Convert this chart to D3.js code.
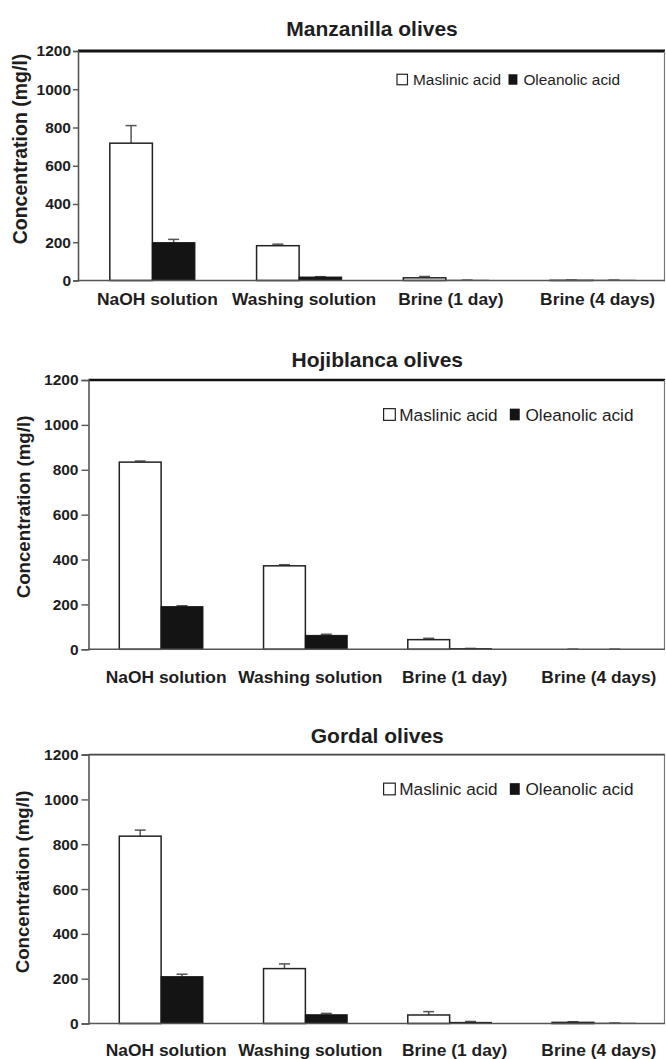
<!DOCTYPE html>
<html>
<head>
<meta charset="utf-8">
<script src="https://cdn.jsdelivr.net/npm/d3@7"></script>
<style>
  html, body { margin: 0; padding: 0; background: #fff; }
  svg { display: block; font-family: "Liberation Sans", Arial, sans-serif; }
</style>
</head>
<body>
<svg id="chart" width="666" height="1059"></svg>
<script>
// ---------------- data ----------------
const categories = ["NaOH solution", "Washing solution", "Brine (1 day)", "Brine (4 days)"];
const seriesNames = ["Maslinic acid", "Oleanolic acid"];
const yTicks = [0, 200, 400, 600, 800, 1000, 1200];
const panelTitles = ["Manzanilla olives", "Hojiblanca olives", "Gordal olives"];
const yAxisTitle = "Concentration (mg/l)";

const manzanillaMaslinic    = [718, 182, 14, 1];
const manzanillaMaslinicErr = [92, 8, 7, 1];
const manzanillaOleanolic    = [198, 18, 1, 1];
const manzanillaOleanolicErr = [17, 2, 1, 1];

const hojiblancaMaslinic    = [834, 372, 43, 0];
const hojiblancaMaslinicErr = [5, 5, 6, 1];
const hojiblancaOleanolic    = [190, 62, 3, 0];
const hojiblancaOleanolicErr = [4, 5, 1, 1];

const gordalMaslinic    = [836, 245, 38, 5];
const gordalMaslinicErr = [27, 21, 15, 3];
const gordalOleanolic    = [209, 39, 5, 1];
const gordalOleanolicErr = [11, 6, 4, 1];

// ---------------- layout ----------------
const panels = [
  { title: panelTitles[0], mas: manzanillaMaslinic, masErr: manzanillaMaslinicErr,
    ole: manzanillaOleanolic, oleErr: manzanillaOleanolicErr,
    axisX: 78, bandStart: 79, right: 666, yTop: 51, yBottom: 280.5,
    titleY: 36, xLabelY: 305, yLabelX: 20, yLabelY: 149, yLabelFont: 19.5,
    tickSize: 5, tickPad: 2, legY: 79.5, legFont: 15.4, legX: [397, 413, 508.5, 523.4],
    topStroke: 3.2, topColor: "#111" },
  { title: panelTitles[1], mas: hojiblancaMaslinic, masErr: hojiblancaMaslinicErr,
    ole: hojiblancaOleanolic, oleErr: hojiblancaOleanolicErr,
    axisX: 88.5, bandStart: 89, right: 666, yTop: 380, yBottom: 649.3,
    titleY: 367, xLabelY: 682.5, yLabelX: 23.5, yLabelY: 507, yLabelFont: 18.7,
    tickSize: 7, tickPad: 3, legY: 414.5, legFont: 17.2, legX: [383.6, 399.3, 509.8, 525.5],
    topStroke: 2.6, topColor: "#111" },
  { title: panelTitles[2], mas: gordalMaslinic, masErr: gordalMaslinicErr,
    ole: gordalOleanolic, oleErr: gordalOleanolicErr,
    axisX: 88.5, bandStart: 89, right: 666, yTop: 754.6, yBottom: 1023.5,
    titleY: 743, xLabelY: 1055.5, yLabelX: 22, yLabelY: 882, yLabelFont: 18.7,
    tickSize: 7, tickPad: 3, legY: 789, legFont: 17.2, legX: [383.6, 399.3, 509.8, 525.5],
    topStroke: 1.6, topColor: "#444" }
];

const svg = d3.select("#chart");
const textColor = "#1e1e1e";
const axisColor = "#555";

panels.forEach(p => {
  const g = svg.append("g");
  const x = d3.scaleBand().domain(categories).range([p.bandStart, p.right]).padding(0);
  const y = d3.scaleLinear().domain([0, 1200]).range([p.yBottom, p.yTop]);
  const bw = x.bandwidth() * 0.29;
  const center = c => x(c) + x.bandwidth() / 2;

  // title
  g.append("text")
    .attr("x", (p.axisX + p.right) / 2)
    .attr("y", p.titleY)
    .attr("text-anchor", "middle")
    .attr("font-size", 21).attr("font-weight", "bold")
    .attr("fill", textColor)
    .text(p.title);

  // frame: top + right
  g.append("line")
    .attr("x1", p.axisX).attr("x2", p.right - 1)
    .attr("y1", y(1200)).attr("y2", y(1200))
    .attr("stroke", p.topColor).attr("stroke-width", p.topStroke);
  g.append("line")
    .attr("x1", p.right - 1.5).attr("x2", p.right - 1.5)
    .attr("y1", y(1200)).attr("y2", y(0))
    .attr("stroke", "#777").attr("stroke-width", 1.2);

  // y axis
  const yAxis = d3.axisLeft(y).tickValues(yTicks).tickFormat(d3.format("d"))
    .tickSize(p.tickSize).tickPadding(p.tickPad);
  const ya = g.append("g").attr("transform", `translate(${p.axisX},0)`).call(yAxis);
  ya.select(".domain").attr("stroke", axisColor).attr("stroke-width", 1.6);
  ya.selectAll(".tick line").attr("stroke", axisColor).attr("stroke-width", 1.4);
  ya.selectAll(".tick text")
    .attr("font-size", 15.5).attr("font-weight", "bold")
    .attr("font-family", "Liberation Sans, Arial, sans-serif")
    .attr("fill", textColor);

  // bars
  const masBars = categories.map((c, i) => ({ c, v: p.mas[i], e: p.masErr[i] }));
  const oleBars = categories.map((c, i) => ({ c, v: p.ole[i], e: p.oleErr[i] }));

  // error bars (drawn first, bars on top)
  const drawErr = (data, offset) => {
    const eg = g.append("g").attr("stroke", "#555").attr("stroke-width", 1.5);
    data.forEach(d => {
      const cx = center(d.c) + offset;
      eg.append("line").attr("x1", cx).attr("x2", cx)
        .attr("y1", y(d.v)).attr("y2", y(d.v + d.e));
      eg.append("line").attr("x1", cx - 5.5).attr("x2", cx + 5.5)
        .attr("y1", y(d.v + d.e)).attr("y2", y(d.v + d.e));
    });
  };
  drawErr(masBars, -bw / 2);
  drawErr(oleBars, bw / 2);

  g.append("g").selectAll("rect").data(masBars).join("rect")
    .attr("x", d => center(d.c) - bw)
    .attr("width", bw)
    .attr("y", d => y(d.v))
    .attr("height", d => y(0) - y(d.v))
    .attr("fill", "#fff")
    .attr("stroke", "#222").attr("stroke-width", 1.5);

  g.append("g").selectAll("rect").data(oleBars).join("rect")
    .attr("x", d => center(d.c))
    .attr("width", bw)
    .attr("y", d => y(d.v))
    .attr("height", d => y(0) - y(d.v))
    .attr("fill", "#141414")
    .attr("stroke", "#141414").attr("stroke-width", 1);

  // x baseline
  g.append("line")
    .attr("x1", p.axisX).attr("x2", p.right - 1)
    .attr("y1", y(0)).attr("y2", y(0))
    .attr("stroke", axisColor).attr("stroke-width", 1.6);

  // x labels
  g.append("g").selectAll("text").data(categories).join("text")
    .attr("x", d => center(d) + 5)
    .attr("y", p.xLabelY)
    .attr("text-anchor", "middle")
    .attr("font-size", 17.4).attr("font-weight", "bold")
    .attr("fill", textColor)
    .text(d => d);

  // y axis title
  g.append("text")
    .attr("transform", `translate(${p.yLabelX},${p.yLabelY}) rotate(-90)`)
    .attr("text-anchor", "middle")
    .attr("dominant-baseline", "central")
    .attr("font-size", p.yLabelFont).attr("font-weight", "bold")
    .attr("fill", textColor)
    .text(yAxisTitle);

  // legend
  const s = p.legFont * 0.68;
  const lg = g.append("g");
  lg.append("rect").attr("x", p.legX[0]).attr("y", p.legY - s / 2)
    .attr("width", s).attr("height", s)
    .attr("fill", "#fff").attr("stroke", "#222").attr("stroke-width", 1.2);
  lg.append("text").attr("x", p.legX[1]).attr("y", p.legY)
    .attr("dominant-baseline", "central")
    .attr("font-size", p.legFont).attr("fill", textColor)
    .text(seriesNames[0]);
  lg.append("rect").attr("x", p.legX[2]).attr("y", p.legY - s / 2)
    .attr("width", s * 0.85).attr("height", s)
    .attr("fill", "#141414");
  lg.append("text").attr("x", p.legX[3]).attr("y", p.legY)
    .attr("dominant-baseline", "central")
    .attr("font-size", p.legFont).attr("fill", textColor)
    .text(seriesNames[1]);
});
</script>
</body>
</html>
